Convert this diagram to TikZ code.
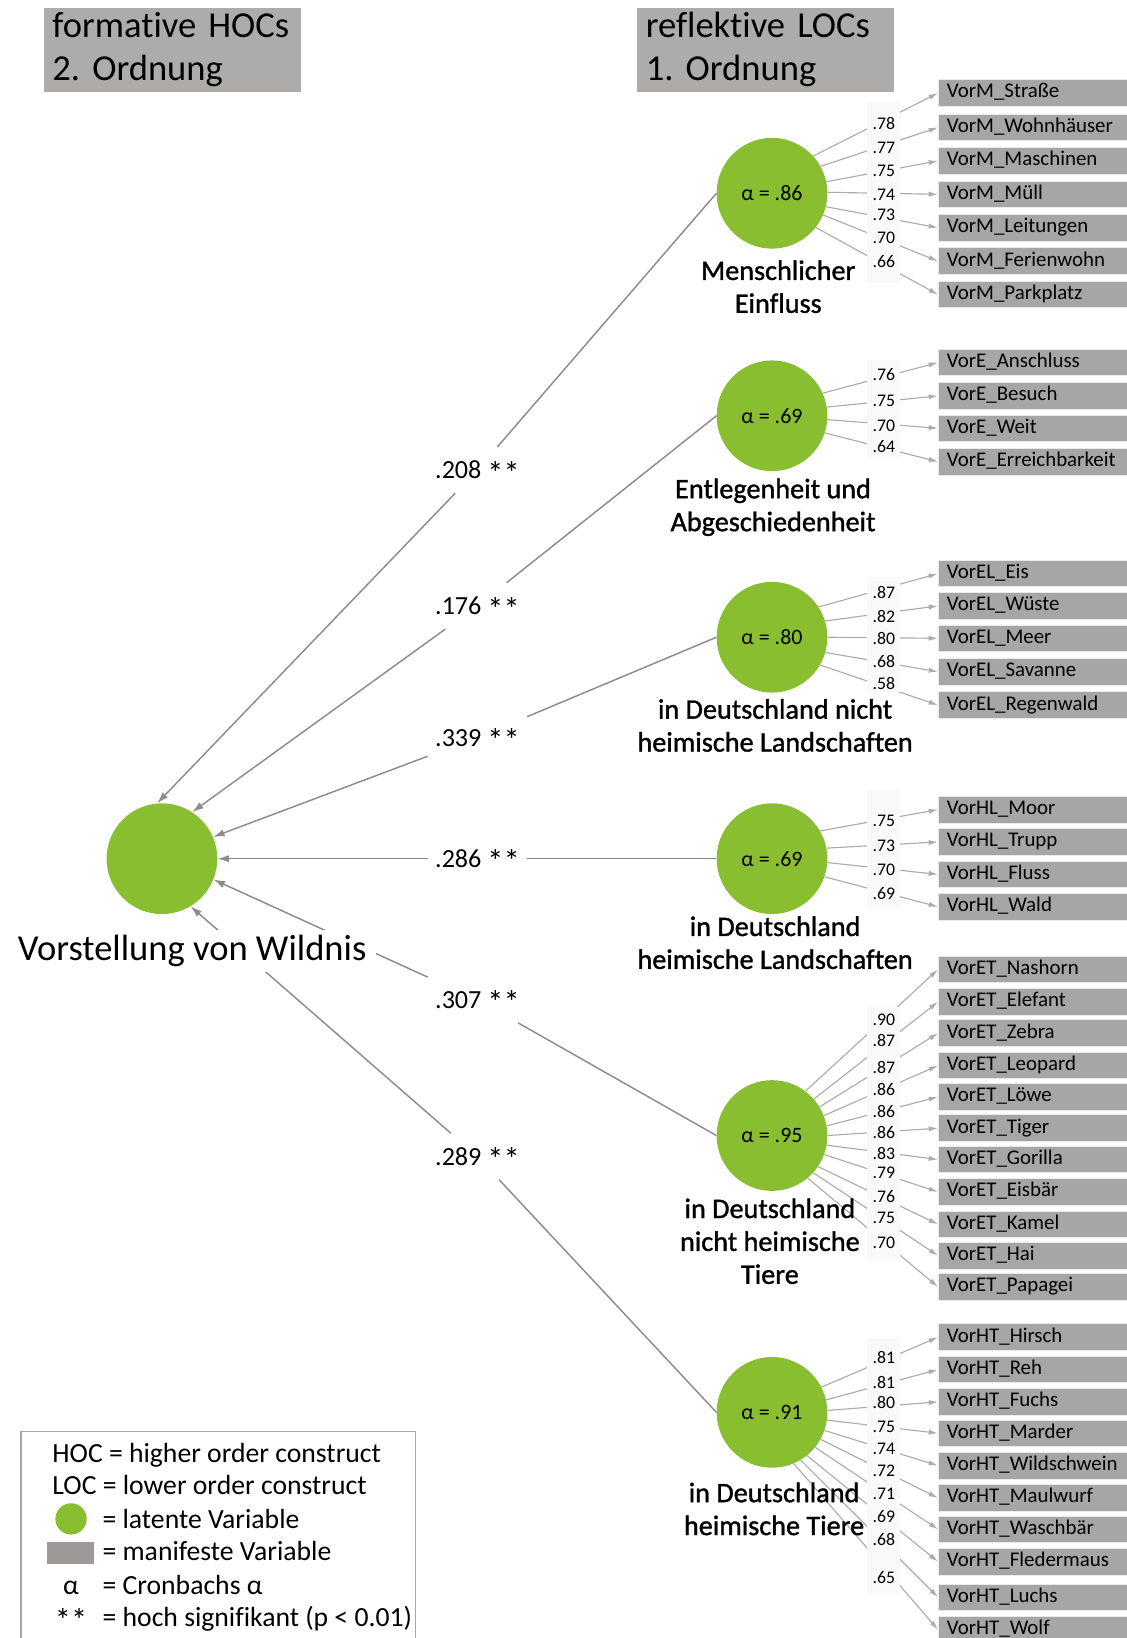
\documentclass[tikz,border=0pt]{standalone}
\usepackage{fontspec}
\setmainfont{Carlito}[Ligatures=CommonOff]
\newfontfamily\semib{Carlito}[FakeBold=1.2, Ligatures=CommonOff]
\usetikzlibrary{arrows.meta}
\frenchspacing
\definecolor{mgreen}{RGB}{136,190,48}
\definecolor{mgray}{RGB}{166,166,166}
\definecolor{tgray}{RGB}{174,171,171}
\definecolor{lgray}{RGB}{158,153,153}
\definecolor{pgray}{RGB}{140,140,140}
\definecolor{igray}{RGB}{172,172,172}
\definecolor{colbg}{RGB}{249,249,249}
\pgfdeclarelayer{back}
\pgfsetlayers{back,main}
\tikzset{lv/.style = {circle, fill=mgreen, minimum size=106pt, inner sep=0, font=\fontsize{21}{24}\selectfont}}
\tikzset{mv/.style = {fill=mgray, draw=white!75!mgray, line width=0.8pt, anchor=west, minimum height=25.5pt, text width=166pt, inner xsep=8pt, inner ysep=0pt, align=left, text height=14pt, text depth=4.5pt, font=\fontsize{20}{24}\selectfont}}
\tikzset{load/.style = {inner sep=0pt, text height=11pt, text depth=0pt, font=\fontsize{17}{20}\selectfont}}
\tikzset{coef/.style = {fill=white, inner xsep=7pt, inner ysep=0pt, minimum height=44pt, text height=17pt, text depth=0pt, font=\fontsize{25}{30}\selectfont}}
\tikzset{struct/.style = {draw=pgray, line width=1.4pt}}
\tikzset{arr/.style = {-{Latex[length=11pt, width=7pt]}}}
\tikzset{ind/.style = {draw=igray, line width=1.1pt, -{Latex[length=9pt, width=5pt]}}}
\tikzset{titlebox/.style = {fill=tgray, anchor=north west, text width=230pt, inner xsep=8pt, inner ysep=0pt, minimum height=81pt, align=left, font=\fontsize{35}{41}\selectfont}}
\tikzset{locname/.style = {anchor=north, align=center, inner sep=0pt, font=\semib\fontsize{27}{31.5}\selectfont}}
\tikzset{hocname/.style = {fill=white, inner xsep=9pt, inner ysep=5pt, font=\fontsize{35}{40}\selectfont}}
\tikzset{leg/.style = {anchor=west, inner sep=0pt, text height=19pt, text depth=3pt, font=\fontsize{26.5}{30}\selectfont}}
\newcommand{\twostars}{\raisebox{-5pt}{\fontsize{31}{31}\selectfont **}}
\newcommand{\indic}[2]{%
  \foreach \ang/\ld/\ldy/\nm/\by [count=\i] in {#2} {
    \node [mv] (#1b\i) at (898,\by) {\nm};
    \node [load] (#1l\i) at (846,\ldy) {\ld};
    \begin{pgfonlayer}{back}
      \draw [ind] (#1.\ang) -- (#1b\i.west);
    \end{pgfonlayer}
  }}

\begin{document}
\begin{tikzpicture}[x=1pt, y=-1pt]
    \useasboundingbox (0,0) rectangle (1078,1568);

    \node [titlebox] (hoctitle) at (42,7) {formative HOCs\\2. Ordnung};
    \node [titlebox] (loctitle) at (610,7) {reflektive LOCs\\1. Ordnung};

    \node [lv] (hoc) at (155,822) {};
    \node [lv] (menf) at (739,185) {α = .86};
    \node [lv] (entl) at (739,398) {α = .69};
    \node [lv] (nhl) at (739,610) {α = .80};
    \node [lv] (hl) at (739,822) {α = .69};
    \node [lv] (nht) at (739,1087) {α = .95};
    \node [lv] (ht) at (739,1352) {α = .91};

    \node [locname] (menfname) at (745,249) {Menschlicher\\Einfluss};
    \node [locname] (entlname) at (740,458) {Entlegenheit und\\Abgeschiedenheit};
    \node [locname] (nhlname) at (742,669) {in Deutschland nicht\\heimische Landschaften};
    \node [locname] (hlname) at (742,877) {in Deutschland\\heimische Landschaften};
    \node [locname] (nhtname) at (737,1147) {in Deutschland\\nicht heimische\\Tiere};
    \node [locname] (htname) at (741,1419) {in Deutschland\\heimische Tiere};

    % loadings
    \fill [colbg] (830,98) rectangle (862,271);
    \fill [colbg] (830,345) rectangle (862,437);
    \fill [colbg] (830,552) rectangle (862,662);
    \fill [colbg] (830,756) rectangle (862,869);
    \fill [colbg] (830,964) rectangle (862,1206);
    \fill [colbg] (830,1282) rectangle (862,1525);

    \indic{menf}{42/.78/118/VorM\_Straße/89, 29/.77/141/VorM\_Wohnhäuser/122, 12/.75/163/VorM\_Maschinen/154, 1/.74/186/VorM\_Müll/186, -14/.73/206/VorM\_Leitungen/218, -23/.70/228/VorM\_Ferienwohn/250, -38/.66/251/VorM\_Parkplatz/282}
    \indic{entl}{24/.76/359/VorE\_Anschluss/347, 9/.75/384/VorE\_Besuch/379, -4/.70/408/VorE\_Weit/410, -18/.64/428/VorE\_Erreichbarkeit/442}
    \indic{nhl}{33/.87/567/VorEL\_Eis/549, 17/.82/590/VorEL\_Wüste/580, 0/.80/611/VorEL\_Meer/611, -16/.68/633/VorEL\_Savanne/643, -30/.58/655/VorEL\_Regenwald/675}
    \indic{hl}{30/.75/786/VorHL\_Moor/775, 11/.73/810/VorHL\_Trupp/806, -4/.70/833/VorHL\_Fluss/837, -19/.69/856/VorHL\_Wald/868}
    \indic{nht}{53/.90/976/VorET\_Nashorn/928, 41/.87/996/VorET\_Elefant/959, 31/.87/1022/VorET\_Zebra/989, 21/.86/1043/VorET\_Leopard/1020, 10/.86/1064/VorET\_Löwe/1050, 0/.86/1084/VorET\_Tiger/1080, -10/.83/1104/VorET\_Gorilla/1110, -20/.79/1123/VorET\_Eisbär/1141, -34/.76/1146/VorET\_Kamel/1172, -42/.75/1166/VorET\_Hai/1202, -50/.70/1190/VorET\_Papagei/1232}
    \indic{ht}{27/.81/1300/VorHT\_Hirsch/1280, 13/.81/1324/VorHT\_Reh/1311, 2/.80/1343/VorHT\_Fuchs/1342, -8/.75/1366/VorHT\_Marder/1372, -19/.74/1387/VorHT\_Wildschwein/1403, -29/.72/1408/VorHT\_Maulwurf/1434, -39/.71/1430/VorHT\_Waschbär/1464, -51/.69/1452/VorHT\_Fledermaus/1495, -59/.68/1474/VorHT\_Luchs/1529, -67/.65/1510/VorHT\_Wolf/1560}

    % path coefficients
    \node [coef] (c1) at (457,450) {.208 \twostars};
    \node [coef] (c2) at (457,580) {.176 \twostars};
    \node [coef] (c3) at (457,706) {.339 \twostars};
    \node [coef] (c4) at (457,822) {.286 \twostars};
    \node [coef] (c5) at (457,957) {.307 \twostars};
    \node [coef] (c6) at (457,1107) {.289 \twostars};
    \draw [struct] (menf.west) -- (c1);
    \draw [struct, arr] (c1) -- (hoc.95);
    \draw [struct] (entl.west) -- (c2);
    \draw [struct, arr] (c2) -- (hoc.57);
    \draw [struct] (nhl.west) -- (c3);
    \draw [struct, arr] (c3) -- (hoc.23);
    \draw [struct] (hl.west) -- (c4);
    \draw [struct, arr] (c4) -- (hoc.0);
    \draw [struct] (nht.west) -- (c5);
    \draw [struct, arr] (c5) -- (hoc.-22);
    \draw [struct] (ht.west) -- (c6);
    \draw [struct, arr] (c6) -- (hoc.-59);
    \node [hocname] (hocname) at (184,910) {Vorstellung von Wildnis};

    % legend
    \draw [draw=gray!70, line width=1.2pt] (20,1370) rectangle (398,1600);
    \node [leg] (lhoc) at (50,1392) {HOC = higher order construct};
    \node [leg] (lloc) at (50,1423) {LOC = lower order construct};
    \node [lv, minimum size=30pt] (llv) at (68,1454) {};
    \node [leg] (llvt) at (98,1455) {= latente Variable};
    \node [fill=lgray, minimum width=45pt, minimum height=21pt, inner sep=0pt] (lmv) at (67.5,1487) {};
    \node [leg] (lmvt) at (98,1486) {= manifeste Variable};
    \node [leg, anchor=center] (lalpha) at (68,1518) {α};
    \node [leg] (lalphat) at (98,1518) {= Cronbachs α};
    \node [leg, anchor=center] (lsig) at (68,1549) {\twostars};
    \node [leg] (lsigt) at (98,1549) {= hoch signifikant (p < 0.01)};
\end{tikzpicture}
\end{document}
